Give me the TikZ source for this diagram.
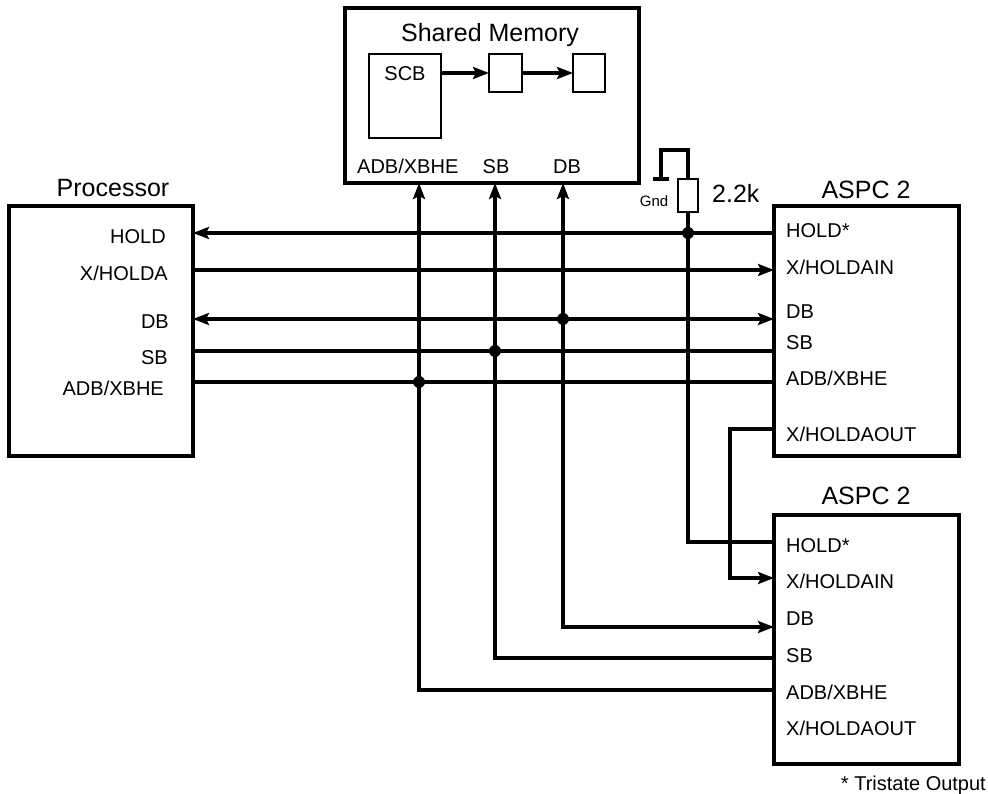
\documentclass[tikz,border=0pt]{standalone}
\usepackage{fontspec}
\setmainfont{Liberation Sans}
\usetikzlibrary{arrows.meta, positioning, calc}

\begin{document}
\begin{tikzpicture}[x=1pt, y=-1pt,
      blk/.style={rectangle, draw, line width=3.2pt, outer sep=0pt, inner sep=0pt},
      cell/.style={rectangle, draw, line width=2.4pt, outer sep=0pt, inner sep=0pt},
      res/.style={rectangle, draw, line width=2.2pt, outer sep=0pt, inner sep=0pt, minimum width=20pt, minimum height=33pt},
      pin/.style={inner sep=0pt, font=\fontsize{20}{24}\selectfont},
      pinr/.style={pin, anchor=base east},
      pinl/.style={pin, anchor=base west},
      head/.style={inner sep=0pt, anchor=base, font=\fontsize{25}{30}\selectfont},
      bus/.style={line width=3.2pt},
      arr/.style={bus, -{Stealth[length=16pt, width=12pt, inset=3pt]}},
      arrb/.style={bus, {Stealth[length=16pt, width=12pt, inset=3pt]}-{Stealth[length=16pt, width=12pt, inset=3pt]}},
      dot/.style={circle, fill, inner sep=0pt, minimum size=12pt}]
    \useasboundingbox (0,0) rectangle (988,794);
    % blocks
    \node[blk, minimum width=294pt, minimum height=175pt] (mem) at (492,95.5) {};
    \node[blk, minimum width=184pt, minimum height=250pt] (cpu) at (101,331) {};
    \node[blk, minimum width=185pt, minimum height=250pt] (aspca) at (866.5,331) {};
    \node[blk, minimum width=185pt, minimum height=249pt] (aspcb) at (866.5,639.5) {};
    \node[cell, minimum width=72pt, minimum height=84pt] (scb) at (405,96) {};
    \node[cell, minimum width=33pt, minimum height=38pt] (qa) at (505.5,73) {};
    \node[cell, minimum width=32pt, minimum height=38pt] (qb) at (589,73) {};
    \node[res] (rpull) at (688,195.5) {};
    % titles
    \node[head] (tmem) at (490,42) {Shared Memory};
    \node[head] (tcpu) at (113,197) {Processor};
    \node[head] (ta) at (866,199) {ASPC 2};
    \node[head] (tb) at (866,504) {ASPC 2};
    \node[head, anchor=base west] (tres) at (712,203) {2.2k};
    \node[pin, anchor=base] (tscb) at (405,81) {SCB};
    \node[pin, anchor=base west] (mad) at (357,174) {ADB/XBHE};
    \node[pin, anchor=base] (msb) at (496,174) {SB};
    \node[pin, anchor=base] (mdb) at (567,174) {DB};
    \node[pin, anchor=base, font=\fontsize{15}{18}\selectfont] (tgnd) at (654,207) {Gnd};
    \node[pin, anchor=base east] (tstar) at (986,790) {* Tristate Output};
    % processor pins
    \node[pinr] (c1) at (166,244) {HOLD};
    \node[pinr] (c2) at (168,281) {X/HOLDA};
    \node[pinr] (c3) at (169,328) {DB};
    \node[pinr] (c4) at (168,364) {SB};
    \node[pinr] (c5) at (164,395) {ADB/XBHE};
    % aspc pins
    \node[pinl] (a1) at (786,238) {HOLD*};
    \node[pinl] (a2) at (786,275) {X/HOLDAIN};
    \node[pinl] (a3) at (786,319) {DB};
    \node[pinl] (a4) at (786,349) {SB};
    \node[pinl] (a5) at (786,385) {ADB/XBHE};
    \node[pinl] (a6) at (786,441) {X/HOLDAOUT};
    \node[pinl] (b1) at (786,552) {HOLD*};
    \node[pinl] (b2) at (786,588) {X/HOLDAIN};
    \node[pinl] (b3) at (786,625) {DB};
    \node[pinl] (b4) at (786,662) {SB};
    \node[pinl] (b5) at (786,699) {ADB/XBHE};
    \node[pinl] (b6) at (786,735) {X/HOLDAOUT};
    % junctions
    \node[dot] (jhold) at (688,233) {};
    \node[dot] (jdb) at (563,319) {};
    \node[dot] (jsb) at (495,351) {};
    \node[dot] (jadb) at (419,382) {};
    % gnd
    \coordinate (gtop) at (688,150);
    \coordinate (gleft) at (661,150);
    \coordinate (gfoot) at (661,179);
    \coordinate (ga) at (653,179);
    \coordinate (gb) at (669,179);
    \coordinate (hout) at (730,429);
    \coordinate (hin) at (730,578);
    % wires
    \draw[arr] (scb.east|-qa) -- (qa);
    \draw[arr] (qa) -- (qb);
    \draw[arr] (jhold-|aspca.west) -- (jhold-|cpu.east);
    \draw[arr] (cpu.east|-0,270) -- (aspca.west|-0,270);
    \draw[arrb] (cpu.east|-jdb) -- (aspca.west|-jdb);
    \draw[bus] (cpu.east|-jsb) -- (aspca.west|-jsb);
    \draw[bus] (cpu.east|-jadb) -- (aspca.west|-jadb);
    \draw[arr] (aspcb.west|-0,690) -| (jadb.center) -- (jadb|-mem.south);
    \draw[arr] (aspcb.west|-0,658) -| (jsb.center) -- (jsb|-mem.south);
    \draw[arr] (jdb.center) |- (aspcb.west|-0,627);
    \draw[arr] (jdb.center) -- (jdb|-mem.south);
    \draw[bus] (aspcb.west|-0,542) -| (jhold.center) -- (rpull.south);
    \draw[bus, line join=miter] (rpull.north) -- (gtop) -- (gleft) -- (gfoot);
    \draw[bus] (ga) -- (gb);
    \draw[arr] (aspca.west|-hout) -- (hout) -- (hin) -- (aspcb.west|-hin);
  \end{tikzpicture}
\end{document}
